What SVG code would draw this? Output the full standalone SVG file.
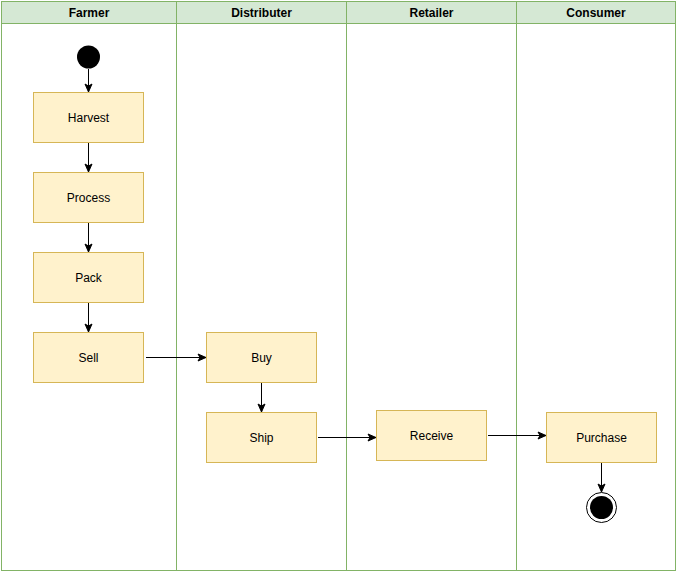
<svg xmlns="http://www.w3.org/2000/svg" width="677" height="571" viewBox="0 0 677 571">
<style>
.lane{fill:#ffffff;stroke:#82b366;stroke-width:1}
.hdr{fill:#d5e8d4;stroke:#82b366;stroke-width:1}
.ht{font-family:"Liberation Sans",Arial,sans-serif;font-size:12px;font-weight:bold;fill:#000;text-anchor:middle}
.node{fill:#fff2cc;stroke:#d6b656;stroke-width:1}
.nt{font-family:"Liberation Sans",Arial,sans-serif;font-size:12px;fill:#000;text-anchor:middle}
.edge{stroke:#000;stroke-width:1;fill:none;marker-end:url(#arr)}
</style>
<defs>
<marker id="arr" viewBox="0 0 10 10" refX="9" refY="5" markerWidth="10" markerHeight="10" markerUnits="userSpaceOnUse" orient="auto">
<path d="M1,1.5 L9,5 L1,8.5 L3,5 Z" fill="#000" stroke="#000" stroke-width="1"/>
</marker>
</defs>
<g id="lane-farmer">
<rect class="lane" x="1.5" y="1.5" width="175" height="569"/>
<rect class="hdr" x="1.5" y="1.5" width="175" height="22"/>
<text class="ht" x="89" y="17">Farmer</text>
</g>
<g id="lane-distributer">
<rect class="lane" x="176.5" y="1.5" width="170" height="569"/>
<rect class="hdr" x="176.5" y="1.5" width="170" height="22"/>
<text class="ht" x="261.5" y="17">Distributer</text>
</g>
<g id="lane-retailer">
<rect class="lane" x="346.5" y="1.5" width="170" height="569"/>
<rect class="hdr" x="346.5" y="1.5" width="170" height="22"/>
<text class="ht" x="431.5" y="17">Retailer</text>
</g>
<g id="lane-consumer">
<rect class="lane" x="516.5" y="1.5" width="159" height="569"/>
<rect class="hdr" x="516.5" y="1.5" width="159" height="22"/>
<text class="ht" x="596" y="17">Consumer</text>
</g>
<g id="edges">
<line class="edge" x1="88.5" y1="69" x2="88.5" y2="92"/>
<line class="edge" x1="88.5" y1="142.5" x2="88.5" y2="172"/>
<line class="edge" x1="88.5" y1="222.5" x2="88.5" y2="252"/>
<line class="edge" x1="88.5" y1="302.5" x2="88.5" y2="332"/>
<line class="edge" x1="146" y1="357.5" x2="206" y2="357.5"/>
<line class="edge" x1="261.5" y1="382.5" x2="261.5" y2="412"/>
<line class="edge" x1="318" y1="437.5" x2="376" y2="437.5"/>
<line class="edge" x1="488" y1="435.5" x2="546" y2="435.5"/>
<line class="edge" x1="601.5" y1="462.5" x2="601.5" y2="492"/>
</g>
<g id="start">
<circle cx="88.5" cy="57" r="11.5" fill="#000"/>
</g>
<g id="harvest">
<rect class="node" x="33.5" y="92.5" width="110" height="50"/>
<text class="nt" x="88.5" y="122">Harvest</text>
</g>
<g id="process">
<rect class="node" x="33.5" y="172.5" width="110" height="50"/>
<text class="nt" x="88.5" y="202">Process</text>
</g>
<g id="pack">
<rect class="node" x="33.5" y="252.5" width="110" height="50"/>
<text class="nt" x="88.5" y="282">Pack</text>
</g>
<g id="sell">
<rect class="node" x="33.5" y="332.5" width="110" height="50"/>
<text class="nt" x="88.5" y="362">Sell</text>
</g>
<g id="buy">
<rect class="node" x="206.5" y="332.5" width="110" height="50"/>
<text class="nt" x="261.5" y="362">Buy</text>
</g>
<g id="ship">
<rect class="node" x="206.5" y="412.5" width="110" height="50"/>
<text class="nt" x="261.5" y="442">Ship</text>
</g>
<g id="receive">
<rect class="node" x="376.5" y="410.5" width="110" height="50"/>
<text class="nt" x="431.5" y="440">Receive</text>
</g>
<g id="purchase">
<rect class="node" x="546.5" y="412.5" width="110" height="50"/>
<text class="nt" x="601.5" y="442">Purchase</text>
</g>
<g id="end">
<circle cx="601.5" cy="507.5" r="15" fill="#fff" stroke="#000" stroke-width="1"/>
<circle cx="601.5" cy="507.5" r="11.5" fill="#000"/>
</g>
</svg>
